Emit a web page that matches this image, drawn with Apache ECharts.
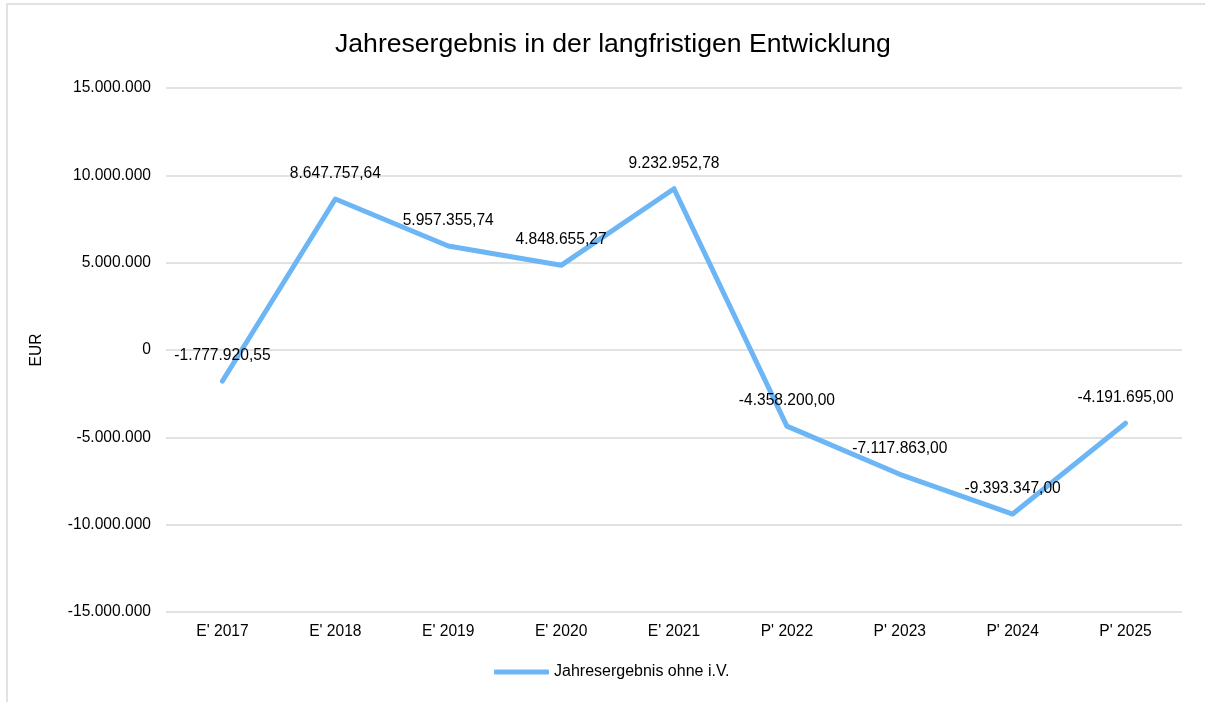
<!DOCTYPE html>
<html>
<head>
<meta charset="utf-8">
<script src="https://cdn.jsdelivr.net/npm/echarts@6/dist/echarts.min.js"></script>
<style>
  html, body { margin: 0; padding: 0; background: #fff; }
  #main { width: 1205px; height: 702px; }
</style>
</head>
<body>
<div id="main"></div>
<script>
const categories = ["E' 2017", "E' 2018", "E' 2019", "E' 2020", "E' 2021", "P' 2022", "P' 2023", "P' 2024", "P' 2025"];
const values = [-1777920.55, 8647757.64, 5957355.74, 4848655.27, 9232952.78, -4358200.00, -7117863.00, -9393347.00, -4191695.00];
const seriesName = "Jahresergebnis ohne i.V.";

// Zahlen im deutschen Format (1.234.567,89)
function deNum(v, digits) {
  const neg = v < 0;
  let s = Math.abs(v).toFixed(digits);
  let [int, dec] = s.split(".");
  int = int.replace(/\B(?=(\d{3})+(?!\d))/g, ".");
  return (neg ? "-" : "") + int + (dec ? "," + dec : "");
}

const myChart = echarts.init(document.getElementById("main"), null, { renderer: "canvas" });
const font = "'Liberation Sans', Arial, sans-serif";
const fs = 15.6;

const option = {
  animation: false,
  textStyle: { fontFamily: font },
  graphic: [{
    type: "rect",
    shape: { x: 7, y: 4, width: 1250, height: 760 },
    style: { fill: "none", stroke: "#d9d9d9", lineWidth: 1.5 },
    silent: true
  }],
  title: {
    text: "Jahresergebnis in der langfristigen Entwicklung",
    left: 330,
    top: 26,
    textStyle: { fontSize: 26.6, fontWeight: "normal", color: "#000", fontFamily: font }
  },
  legend: {
    bottom: 17,
    left: 489,
    itemWidth: 55,
    itemHeight: 5,
    icon: "roundRect",
    textStyle: { fontSize: 16, color: "#000", fontFamily: font },
    data: [seriesName]
  },
  grid: { left: 166, right: 23, top: 88, bottom: 90 },
  xAxis: {
    type: "category",
    data: categories,
    boundaryGap: true,
    axisLine: { show: false },
    axisTick: { show: false },
    axisLabel: { fontSize: fs, color: "#000", margin: 12, fontFamily: font }
  },
  yAxis: {
    type: "value",
    min: -15000000,
    max: 15000000,
    interval: 5000000,
    name: "EUR",
    nameLocation: "middle",
    nameGap: 121,
    nameRotate: 90,
    nameTextStyle: { fontSize: fs, color: "#000", fontFamily: font },
    axisLine: { show: false },
    axisTick: { show: false },
    axisLabel: { fontSize: fs, color: "#000", margin: 15, fontFamily: font, formatter: v => deNum(v, 0) },
    splitLine: { lineStyle: { color: "#d9d9d9", width: 1.5 } }
  },
  series: [{
    name: seriesName,
    type: "line",
    data: values,
    symbol: "circle",
    symbolSize: 1,
    showSymbol: true,
    lineStyle: { color: "#6cb6f5", width: 5, cap: "round", join: "round" },
    itemStyle: { color: "#6cb6f5" },
    label: {
      show: true,
      position: "top",
      distance: 17,
      fontSize: fs,
      color: "#000",
      fontFamily: font,
      formatter: p => deNum(p.value, 2)
    }
  }]
};

option && myChart.setOption(option);
</script>
</body>
</html>
